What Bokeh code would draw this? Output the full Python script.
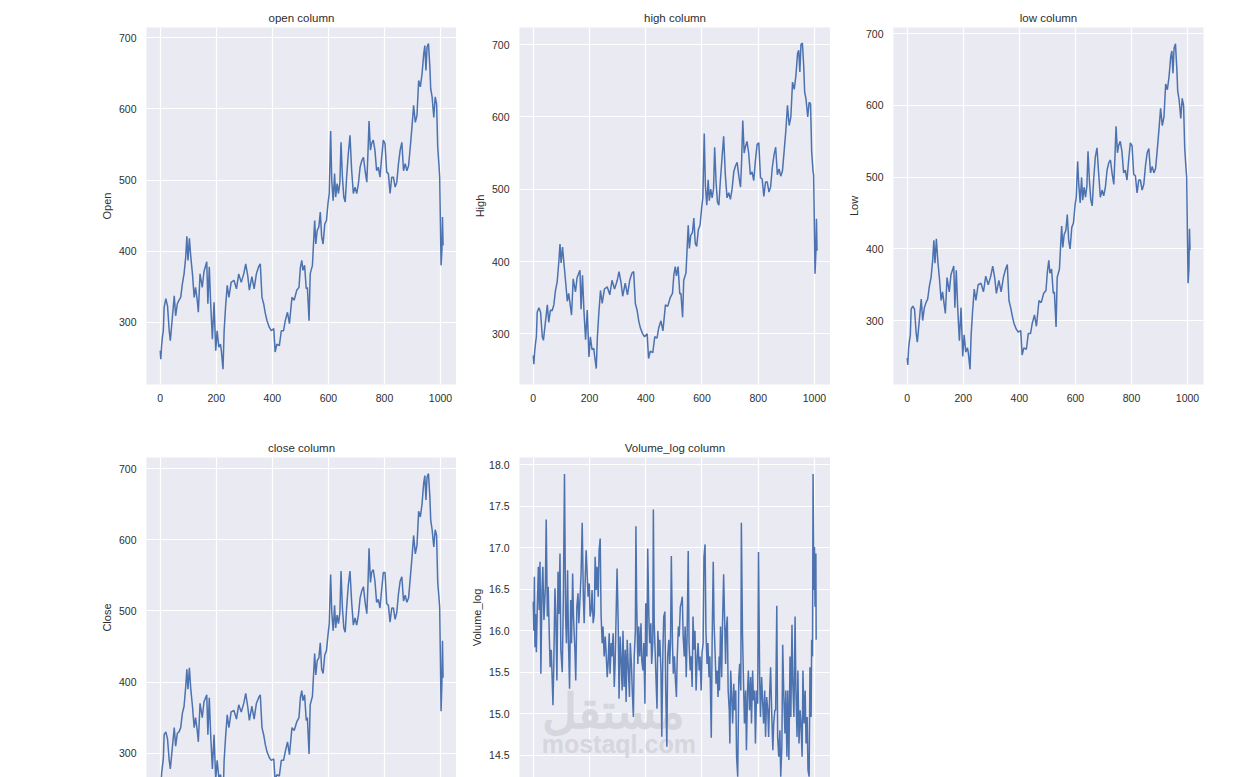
from bokeh.plotting import figure
from bokeh.layouts import column, row
from bokeh.models import Range1d, FixedTicker, PrintfTickFormatter, Label
from bokeh.embed import file_html
from bokeh.resources import INLINE

# ---------------- data ----------------
price_idx = [0, 2, 5, 8, 11, 14, 20, 26, 32, 36, 50, 55, 61, 67, 73, 79, 85, 91, 95, 99,
             104, 109, 115, 121, 126, 132, 136, 142, 150, 156, 166, 170, 175, 180, 186, 192, 198, 203, 209, 215,
             218, 224, 228, 233, 239, 245, 253, 263, 272, 280, 289, 298, 305, 312, 318, 327, 335, 343, 351, 357,
             363, 369, 375, 381, 389, 396, 405, 410, 416, 425, 432, 440, 446, 454, 461, 470, 478, 487, 495, 500,
             505, 509, 515, 521, 525, 531, 535, 543, 551, 555, 560, 566, 571, 576, 581, 587, 593, 599, 603, 608,
             612, 617, 622, 626, 631, 636, 641, 645, 650, 655, 660, 665, 671, 677, 683, 689, 695, 701, 707, 713,
             719, 725, 731, 737, 741, 745, 750, 754, 760, 766, 772, 778, 784, 790, 796, 802, 808, 814, 820, 826,
             832, 838, 844, 850, 856, 862, 868, 874, 880, 886, 892, 898, 904, 910, 916, 922, 928, 934, 940, 944,
             948, 952, 957, 962, 965, 970, 976, 981, 986, 990, 995, 997, 1000, 1002, 1005, 1007, 1009]

open_vals = [260, 248, 268, 280, 288, 321, 333, 323, 288, 274, 337, 309, 326, 331, 335, 354, 368, 392, 421, 387,
             418, 392, 368, 335, 349, 331, 314, 368, 349, 371, 385, 326, 378, 326, 276, 328, 260, 288, 265, 269,
             260, 234, 288, 321, 352, 335, 356, 359, 347, 368, 356, 368, 382, 366, 345, 364, 347, 368, 378, 382,
             335, 326, 312, 302, 293, 288, 291, 258, 269, 267, 288, 288, 302, 314, 298, 335, 331, 345, 349, 377,
             387, 373, 380, 347, 349, 302, 368, 380, 443, 410, 429, 434, 455, 420, 410, 438, 443, 469, 481, 569,
             499, 471, 509, 476, 495, 481, 497, 553, 504, 476, 469, 504, 537, 563, 513, 481, 490, 481, 495, 518,
             527, 532, 513, 497, 537, 583, 542, 551, 556, 542, 513, 518, 504, 532, 556, 551, 511, 509, 481, 504,
             504, 490, 497, 523, 542, 553, 513, 523, 513, 520, 546, 574, 605, 581, 591, 640, 631, 649, 677, 689,
             654, 687, 692, 659, 628, 617, 588, 617, 607, 546, 518, 504, 429, 380, 401, 448, 408]

high_vals = [270, 258, 276, 287, 296, 330, 336, 330, 296, 291, 340, 316, 333, 332, 340, 360, 372, 400, 424, 398,
             420, 398, 372, 345, 356, 338, 326, 376, 358, 378, 388, 334, 381, 333, 292, 333, 268, 296, 278, 280,
             270, 252, 296, 328, 360, 342, 362, 365, 354, 374, 362, 373, 386, 371, 352, 370, 354, 374, 384, 386,
             342, 333, 318, 308, 300, 296, 300, 266, 276, 274, 296, 294, 308, 318, 304, 340, 338, 350, 356, 382,
             393, 380, 393, 355, 356, 323, 374, 384, 450, 418, 436, 440, 460, 425, 421, 444, 450, 475, 488, 577,
             505, 478, 513, 484, 500, 488, 500, 558, 510, 482, 478, 510, 542, 573, 520, 488, 495, 486, 500, 524,
             532, 537, 518, 503, 540, 595, 550, 558, 566, 550, 520, 524, 512, 540, 562, 564, 516, 514, 490, 510,
             510, 496, 503, 530, 547, 558, 520, 528, 518, 525, 552, 580, 616, 588, 600, 648, 638, 657, 688, 692,
             662, 700, 702, 668, 635, 624, 600, 620, 618, 552, 524, 520, 440, 383, 412, 459, 415]

low_vals = [248, 238, 262, 272, 280, 316, 320, 316, 282, 270, 330, 300, 318, 325, 330, 348, 360, 385, 412, 380,
            414, 384, 358, 328, 340, 322, 310, 360, 340, 364, 376, 318, 370, 318, 272, 318, 250, 280, 256, 262,
            255, 232, 280, 312, 344, 328, 350, 352, 340, 362, 350, 362, 376, 360, 338, 356, 340, 360, 372, 378,
            328, 318, 306, 296, 288, 284, 286, 252, 262, 260, 282, 282, 296, 308, 292, 328, 325, 338, 342, 368,
            384, 366, 372, 338, 340, 291, 360, 372, 432, 402, 420, 426, 448, 412, 400, 430, 436, 462, 472, 522,
            490, 464, 500, 468, 486, 472, 488, 536, 495, 468, 460, 496, 528, 541, 505, 472, 482, 474, 486, 510,
            520, 524, 505, 490, 528, 571, 534, 544, 550, 536, 506, 510, 496, 524, 548, 544, 504, 502, 478, 496,
            496, 482, 490, 516, 534, 540, 506, 515, 506, 512, 538, 566, 596, 572, 584, 630, 622, 640, 668, 676,
            645, 680, 686, 650, 620, 608, 582, 610, 600, 540, 510, 500, 410, 352, 372, 428, 398]

close_vals = [262, 252, 272, 282, 292, 326, 330, 320, 290, 278, 336, 310, 328, 330, 336, 356, 366, 394, 418, 390,
              420, 390, 366, 336, 350, 332, 316, 370, 350, 372, 382, 326, 378, 326, 278, 326, 262, 290, 266, 270,
              262, 236, 290, 322, 354, 336, 358, 360, 348, 368, 358, 370, 384, 366, 346, 366, 348, 370, 378, 382,
              336, 326, 312, 302, 294, 290, 292, 260, 270, 268, 290, 290, 302, 316, 298, 336, 332, 344, 350, 378,
              388, 374, 382, 346, 350, 299, 368, 380, 440, 410, 430, 434, 455, 418, 412, 438, 444, 468, 482, 551,
              498, 472, 508, 476, 494, 482, 498, 556, 504, 476, 470, 504, 536, 556, 512, 480, 490, 480, 494, 518,
              528, 534, 512, 496, 536, 588, 540, 554, 558, 542, 512, 516, 504, 530, 554, 554, 510, 508, 484, 504,
              504, 488, 498, 524, 542, 548, 514, 522, 512, 518, 546, 574, 606, 580, 592, 640, 632, 650, 680, 690,
              656, 688, 693, 660, 628, 614, 590, 614, 606, 540, 516, 505, 420, 359, 400, 458, 406]

vol_idx = [0, 2, 4, 6, 8, 11, 14, 18, 21, 24, 27, 31, 34, 38, 43, 46, 50, 53, 57, 60,
           64, 70, 73, 77, 80, 84, 88, 91, 95, 98, 103, 107, 111, 115, 118, 122, 125, 129, 133, 136,
           140, 143, 148, 151, 155, 159, 162, 166, 170, 174, 178, 181, 185, 188, 192, 195, 199, 202, 206, 209,
           213, 217, 220, 224, 227, 231, 234, 238, 241, 245, 248, 252, 256, 259, 263, 266, 270, 273, 277, 280,
           284, 288, 291, 298, 302, 305, 309, 312, 316, 319, 323, 327, 330, 334, 342, 345, 349, 352, 356, 359,
           363, 365, 368, 372, 375, 379, 383, 386, 390, 393, 397, 400, 404, 407, 411, 414, 418, 421, 425, 427,
           430, 434, 437, 440, 443, 447, 450, 454, 457, 461, 464, 468, 471, 475, 478, 482, 485, 488, 491, 495,
           498, 502, 505, 509, 512, 516, 519, 523, 526, 530, 533, 537, 540, 544, 547, 551, 554, 558, 561, 565,
           568, 572, 575, 579, 583, 586, 590, 593, 597, 600, 604, 607, 611, 614, 618, 621, 625, 628, 633, 636,
           640, 643, 647, 650, 654, 657, 661, 662, 666, 670, 673, 677, 680, 684, 686, 690, 693, 697, 699, 702,
           705, 709, 713, 716, 720, 723, 727, 731, 734, 738, 740, 744, 747, 751, 755, 758, 762, 765, 769, 773,
           776, 780, 783, 787, 790, 794, 798, 801, 805, 808, 812, 816, 819, 823, 826, 830, 834, 837, 841, 844,
           848, 852, 855, 859, 862, 866, 869, 873, 877, 880, 884, 887, 891, 895, 898, 902, 905, 909, 913, 916,
           920, 923, 927, 931, 934, 938, 941, 945, 949, 952, 956, 959, 963, 967, 970, 974, 977, 981, 984, 988,
           990, 993, 995, 998, 1000, 1002, 1005, 1006]

vol_vals = [16.35, 16.0, 16.65, 15.8, 16.2, 15.74, 16.25, 16.77, 16.25, 16.83, 15.48, 16.49, 16.77, 16.13, 16.53, 17.34, 16.17, 16.53, 15.93, 15.56,
            15.77, 15.10, 15.6, 16.51, 16.2, 15.4, 16.71, 16.2, 16.93, 15.77, 15.5, 16.41, 17.89, 16.17, 15.85, 16.73, 15.89, 15.3, 16.37, 15.85,
            16.69, 16.17, 15.77, 15.4, 16.29, 16.45, 16.09, 16.37, 16.69, 17.3, 16.41, 16.09, 16.65, 16.97, 16.65, 16.41, 16.57, 16.17, 16.25, 16.49,
            16.09, 16.2, 16.89, 16.49, 16.77, 16.41, 16.97, 17.11, 16.2, 15.85, 16.05, 15.69, 15.93, 15.73, 15.44, 15.6, 15.97, 15.48, 15.85, 15.69,
            15.97, 15.32, 15.6, 16.75, 16.09, 15.18, 15.93, 15.69, 15.28, 16.0, 15.32, 15.77, 15.14, 15.89, 15.2, 15.85, 15.6, 15.28, 14.96, 15.69,
            16.0, 17.26, 16.29, 15.6, 16.05, 15.69, 16.09, 15.64, 15.52, 15.85, 15.12, 16.33, 15.69, 16.99, 16.17, 15.85, 16.09, 15.6, 15.85, 17.46,
            16.09, 15.69, 15.36, 15.06, 16.0, 15.69, 15.89, 15.52, 14.72, 15.77, 16.17, 16.23, 15.28, 14.6, 15.69, 15.89, 15.6, 15.85, 16.9, 15.85,
            15.48, 15.69, 15.44, 15.2, 15.69, 16.05, 15.93, 16.29, 16.33, 16.41, 15.93, 15.69, 16.05, 15.44, 15.93, 16.96, 15.85, 15.52, 15.69, 15.32,
            16.17, 15.77, 16.0, 15.28, 15.69, 15.85, 15.52, 15.69, 15.28, 15.73, 15.85, 16.89, 17.04, 16.0, 15.6, 15.85, 15.44, 15.69, 14.71, 15.85,
            16.83, 16.09, 15.69, 15.36, 15.52, 15.2, 15.69, 15.28, 16.05, 15.44, 16.09, 16.68, 16.2, 15.6, 16.0, 16.17, 15.28, 15.04, 14.64, 15.52,
            15.28, 14.88, 15.36, 15.04, 15.28, 14.48, 14.24, 15.44, 15.6, 15.28, 17.3, 15.97, 15.48, 14.88, 15.28, 14.56, 15.28, 15.52, 15.04, 15.44,
            14.88, 15.52, 15.16, 15.28, 14.64, 15.28, 15.12, 16.95, 15.44, 14.96, 15.44, 15.12, 14.88, 15.28, 14.72, 15.2, 15.04, 14.72, 15.28, 15.56,
            15.0, 14.56, 14.88, 15.04, 15.04, 16.3, 14.72, 14.48, 14.8, 14.24, 14.6, 15.83, 15.2, 14.76, 15.28, 14.48, 15.28, 14.44, 15.69, 14.96,
            16.07, 15.36, 14.96, 16.17, 15.28, 14.72, 15.52, 14.64, 15.04, 14.88, 14.48, 15.52, 14.88, 15.28, 14.64, 14.96, 14.32, 14.24, 15.56, 14.96,
            15.89, 15.69, 17.89, 16.49, 17.01, 16.29, 16.93, 15.89]

x_ticks = [0, 200, 400, 600, 800, 1000]
price_ticks = [300, 400, 500, 600, 700]
vol_ticks = [14.5, 15.0, 15.5, 16.0, 16.5, 17.0, 17.5, 18.0]

titles = ["open column", "high column", "low column", "close column", "Volume_log column"]
ylabels = ["Open", "High", "Low", "Close", "Volume_log"]

# ---------------- styling ----------------
FONT = "Liberation Sans"
BG = "#EAEAF2"
LINE = "#4C72B0"
TXT = "#2e2e2e"


def make_fig(title, ylabel, xs, ys, yr, yticks, width, height, bl, br, bt, bb, show_x=True, fmt=None):
    p = figure(width=width, height=height, output_backend="svg", toolbar_location=None,
               x_range=Range1d(-49, 1057), y_range=Range1d(*yr),
               min_border_left=bl, min_border_right=br, min_border_top=bt, min_border_bottom=bb,
               background_fill_color=BG, border_fill_color="white", outline_line_color=None)
    p.title.text = title
    p.title.align = "center"
    p.title.text_font = FONT
    p.title.text_font_size = "11.5px"
    p.title.text_font_style = "normal"
    p.title.text_color = TXT
    p.title.standoff = 7
    p.line(xs, ys, line_color=LINE, line_width=1.5)
    for ax in (p.xaxis[0], p.yaxis[0]):
        ax.axis_line_color = None
        ax.major_tick_line_color = None
        ax.minor_tick_line_color = None
        ax.major_tick_out = 0
        ax.major_tick_in = 0
        ax.minor_tick_out = 0
        ax.minor_tick_in = 0
        ax.major_label_text_font = FONT
        ax.major_label_text_font_size = "10.5px"
        ax.major_label_text_color = TXT
    p.xaxis.major_label_standoff = 9
    p.yaxis.major_label_standoff = 10
    p.xaxis.ticker = FixedTicker(ticks=x_ticks)
    p.yaxis.ticker = FixedTicker(ticks=yticks)
    if fmt:
        p.yaxis.formatter = PrintfTickFormatter(format=fmt)
    p.yaxis.axis_label = ylabel
    p.yaxis.axis_label_text_font = FONT
    p.yaxis.axis_label_text_font_size = "11px"
    p.yaxis.axis_label_text_font_style = "normal"
    p.yaxis.axis_label_text_color = TXT
    p.yaxis.axis_label_standoff = 3
    p.xaxis.visible = show_x
    p.grid.grid_line_color = "white"
    p.grid.grid_line_width = 1.2
    return p


# row 1: frame 357 px tall starting 27 px from the top; row 2 frame starts at 457 and runs to the page bottom
f_open = make_fig(titles[0], ylabels[0], price_idx, open_vals, (212.4, 714.5), price_ticks, 456, 432, 146, 0, 27, 48)
f_high = make_fig(titles[1], ylabels[1], price_idx, high_vals, (230.0, 723.5), price_ticks, 374, 432, 63, 0, 27, 48)
f_low = make_fig(titles[2], ylabels[2], price_idx, low_vals, (210.8, 708.8), price_ticks, 383, 432, 63, 10, 27, 48)
f_close = make_fig(titles[3], ylabels[3], price_idx, close_vals, (265.9, 715.5), price_ticks, 456, 345, 146, 0, 25, 0,
                   show_x=False)
f_vol = make_fig(titles[4], ylabels[4], vol_idx, vol_vals, (14.23, 18.088), vol_ticks, 374, 345, 63, 0, 25, 0,
                 show_x=False, fmt="%.1f")

# faint site watermark seen in the reference
f_vol.add_layout(Label(x=30, y=14.71, text="مستقل", text_font=FONT, text_font_size="48px",
                       text_font_style="bold", text_color="#d6d6de", level="underlay"))
f_vol.add_layout(Label(x=30, y=14.46, text="mostaql.com", text_font=FONT, text_font_size="25px",
                       text_font_style="bold", text_color="#d6d6de", level="underlay"))

layout = column(row(f_open, f_high, f_low), row(f_close, f_vol))

with open("out.html", "w") as fh:
    fh.write(file_html(layout, INLINE))
